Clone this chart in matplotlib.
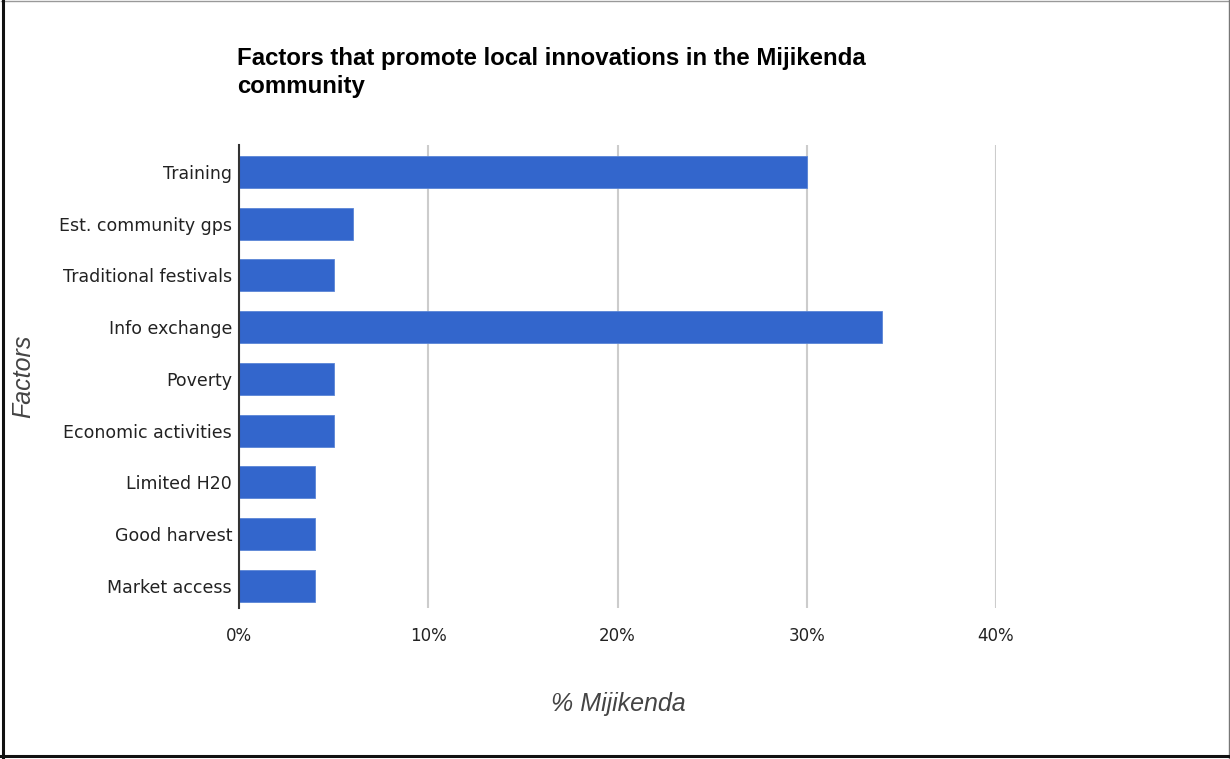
import matplotlib
matplotlib.use("Agg")
import matplotlib.pyplot as plt
from matplotlib.lines import Line2D
from matplotlib.ticker import FuncFormatter

factors = [
    "Training",
    "Est. community gps",
    "Traditional festivals",
    "Info exchange",
    "Poverty",
    "Economic activities",
    "Limited H20",
    "Good harvest",
    "Market access",
]
percent = [30, 6, 5, 34, 5, 5, 4, 4, 4]
x_ticks = [0, 10, 20, 30, 40]

BAR_COLOR = "#3366cc"

fig = plt.figure(figsize=(12.3, 7.59), dpi=100)
ax = fig.add_axes([239 / 1230, 1 - 608 / 759, (996 - 239) / 1230, (608 - 145) / 759])

# top category first
ypos = list(range(len(factors)))[::-1]
ax.barh(ypos, percent, height=0.62, color=BAR_COLOR, edgecolor="#5b85d6", linewidth=0.6, zorder=3)

ax.set_xlim(0, 40)
ax.set_ylim(-0.43, 8.52)
ax.set_xticks(x_ticks)
ax.xaxis.set_major_formatter(FuncFormatter(lambda v, _: f"{int(v)}%"))
ax.set_yticks(ypos)
ax.set_yticklabels(factors)

ax.grid(axis="x", color="#cccccc", linewidth=1.5, zorder=0)
ax.tick_params(axis="both", length=0, labelsize=12.5, colors="#222222")
ax.tick_params(axis="x", labelsize=12, pad=14)
ax.tick_params(axis="y", pad=5)
for lbl in ax.get_xticklabels() + ax.get_yticklabels():
    lbl.set_family("DejaVu Sans")

for side in ["top", "right", "bottom"]:
    ax.spines[side].set_visible(False)
ax.spines["left"].set_color("#333333")
ax.spines["left"].set_linewidth(1.5)
ax.spines["left"].set_zorder(4)

ax.set_xlabel("% Mijikenda", fontsize=18, style="italic", color="#444444",
              family="Liberation Sans")
ax.xaxis.set_label_coords(0.501, -0.182)
ax.set_ylabel("Factors", fontsize=18, style="italic", color="#444444",
              family="Liberation Sans")
ax.yaxis.set_label_coords(-0.269, 0.5)

fig.text(237 / 1230, 1 - 47 / 759,
         "Factors that promote local innovations in the Mijikenda\ncommunity",
         fontsize=17.3, fontweight="bold", color="#000000", va="top", ha="left",
         family=["Liberation Sans Narrow", "Liberation Sans"], linespacing=1.3)

# outer frame: heavy on the left and bottom, thin on the top and right
fig.add_artist(Line2D([0.5 / 1230, 1229.5 / 1230], [1 - 0.5 / 759, 1 - 0.5 / 759],
                      transform=fig.transFigure, color="#999999", linewidth=1))
fig.add_artist(Line2D([1228.5 / 1230, 1228.5 / 1230], [0, 1],
                      transform=fig.transFigure, color="#777777", linewidth=1))
fig.add_artist(Line2D([3 / 1230, 3 / 1230], [0, 1],
                      transform=fig.transFigure, color="#111111", linewidth=2.2))
fig.add_artist(Line2D([0, 1], [3 / 759, 3 / 759],
                      transform=fig.transFigure, color="#111111", linewidth=2.2))

fig.savefig("out.png", dpi=100, facecolor="white")
